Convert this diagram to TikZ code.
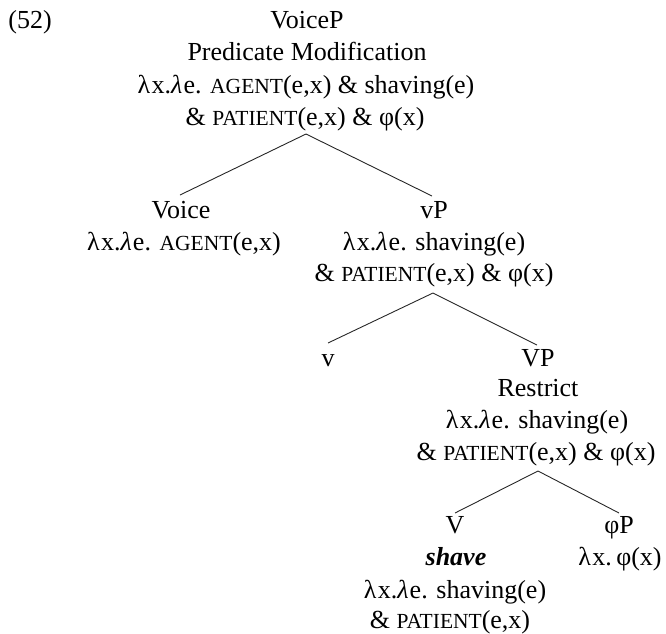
\documentclass[tikz,border=0pt]{standalone}
\usepackage{fontspec}
\setmainfont{Liberation Serif}
\newcommand{\smc}[1]{{\fontsize{21.5}{21.5}\selectfont #1}}
\newcommand{\lamu}{λ\kern1.5pt}
\newcommand{\lami}{\textit{λ}\kern1pt}
\begin{document}
\begin{tikzpicture}[x=1pt,y=-1pt,
  txt/.style={anchor=base,inner sep=0pt,font=\fontsize{26}{32}\selectfont},
  branch/.style={line width=0.9pt,black!85}]
\useasboundingbox (0,0) rectangle (666,633);
% labels
\node[txt] (ex) at (30,28) {(52)};
\node[txt] (voicep) at (307,28) {VoiceP};
\node[txt] (voicepr) at (307,60) {Predicate Modification};
\node[txt] (voicepa) at (306,93) {\lamu x.\lami e. \smc{AGENT}(e,x) \& shaving(e)};
\node[txt] (voicepb) at (305,125) {\& \smc{PATIENT}(e,x) \& φ(x)};
\node[txt] (voice) at (181,218) {Voice};
\node[txt] (voicea) at (184,250) {\lamu x.\lami e. \smc{AGENT}(e,x)};
\node[txt] (vp) at (434,218) {vP};
\node[txt] (vpa) at (434,250) {\lamu x.\lami e. shaving(e)};
\node[txt] (vpb) at (434,281) {\& \smc{PATIENT}(e,x) \& φ(x)};
\node[txt] (lv) at (328,366) {v};
\node[txt] (VP) at (538,366) {VP};
\node[txt] (VPr) at (538,396) {Restrict};
\node[txt] (VPa) at (537,428) {\lamu x.\lami e. shaving(e)};
\node[txt] (VPb) at (536,460) {\& \smc{PATIENT}(e,x) \& φ(x)};
\node[txt] (V) at (455,533) {V};
\node[txt] (Vs) at (456,565) {\textbf{\textit{shave}}};
\node[txt] (Va) at (455,598) {\lamu x.\lami e. shaving(e)};
\node[txt] (Vb) at (450,628) {\& \smc{PATIENT}(e,x)};
\node[txt] (phiP) at (619,533) {φP};
\node[txt] (phiPa) at (620,565) {\lamu x.\,φ(x)};
% branch points
\coordinate (r0) at (306,134);
\coordinate (r1) at (180,195);
\coordinate (r2) at (432,196);
\coordinate (s0) at (433,293);
\coordinate (s1) at (328,343);
\coordinate (s2) at (537,345);
\coordinate (t0) at (538,471);
\coordinate (t1) at (455,513);
\coordinate (t2) at (619,513);
\draw[branch] (r1) -- (r0) -- (r2);
\draw[branch] (s1) -- (s0) -- (s2);
\draw[branch] (t1) -- (t0) -- (t2);
\end{tikzpicture}
\end{document}
